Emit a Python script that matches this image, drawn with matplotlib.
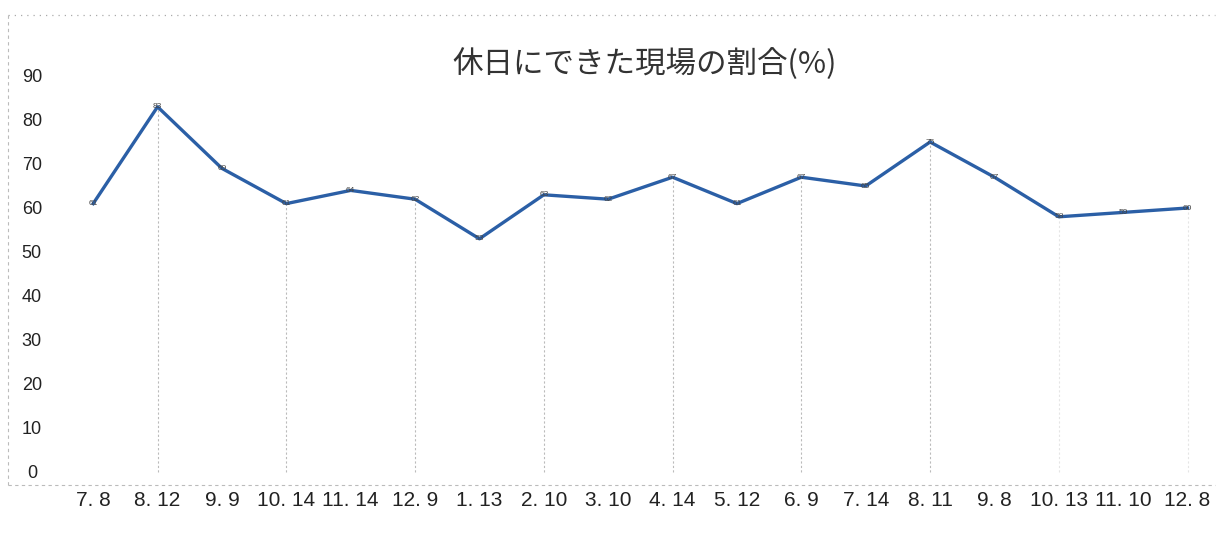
import matplotlib.pyplot as plt
from matplotlib.patches import Rectangle

plt.rcParams['font.family'] = ['Noto Sans CJK JP', 'DejaVu Sans']

# survey dates (month.day) and share of sites that got a day off
dates = ["7. 8", "8. 12", "9. 9", "10. 14", "11. 14", "12. 9", "1. 13", "2. 10", "3. 10",
         "4. 14", "5. 12", "6. 9", "7. 14", "8. 11", "9. 8", "10. 13", "11. 10", "12. 8"]
rates = [61, 83, 69, 61, 64, 62, 53, 63, 62, 67, 61, 67, 65, 75, 67, 58, 59, 60]
yticks = [0, 10, 20, 30, 40, 50, 60, 70, 80, 90]

W, H = 1223, 545
fig = plt.figure(figsize=(W / 100, H / 100), dpi=100)
ax = fig.add_axes([61 / W, 1 - 485 / H, 1 - 61 / W, (485 - 76) / H])

x = list(range(len(dates)))

# faint drop lines from every other point
for i in x[1::2]:
    a = 0.4 if i < 15 else 0.15
    ax.vlines(i, 0, rates[i], colors='#555555', linestyles=(0, (2, 2)), linewidth=0.8, alpha=a)

ax.plot(x, rates, color='#2b5fa6', linewidth=2.4, solid_joinstyle='round')
for i, v in zip(x, rates):
    ax.text(i, v, str(v), ha='center', va='center', fontsize=6, color='#444444',
            family=['Liberation Sans', 'DejaVu Sans'])

ax.set_xlim(-0.5, len(dates) - 0.45)
ax.set_ylim(-13 / 4.4, 90)
ax.set_xticks(x)
ax.set_xticklabels(dates, fontsize=15, color='#222222',
                   family=['Liberation Sans', 'DejaVu Sans'])
ax.set_yticks(yticks)
ax.set_yticklabels([str(t) for t in yticks], fontsize=13, color='#222222',
                   family=['Liberation Sans', 'DejaVu Sans'], ha='center')
ax.tick_params(axis='x', length=0, pad=4)
ax.tick_params(axis='y', length=0, pad=21)
for s in ax.spines.values():
    s.set_visible(False)

# faint scanned chart border (top, left and bottom edges)
fig.add_artist(plt.Line2D([8 / W, 1 - 8 / W], [1 - 15 / H, 1 - 15 / H], color='#aaaaaa',
                          linestyle=(0, (1, 4)), linewidth=0.9))
fig.add_artist(plt.Line2D([8 / W, 8 / W], [1 - 15 / H, 1 - 485 / H], color='#bbbbbb',
                          linestyle=(0, (3, 3)), linewidth=0.8))
fig.add_artist(plt.Line2D([8 / W, 1 - 8 / W], [1 - 485 / H, 1 - 485 / H], color='#bbbbbb',
                          linestyle=(0, (3, 3)), linewidth=0.8))

fig.text(645 / W, 1 - 64 / H, '休日にできた現場の割合(%)', ha='center', va='center',
         fontsize=22, color='#333333')

fig.savefig('out.png', dpi=100, facecolor='white')
